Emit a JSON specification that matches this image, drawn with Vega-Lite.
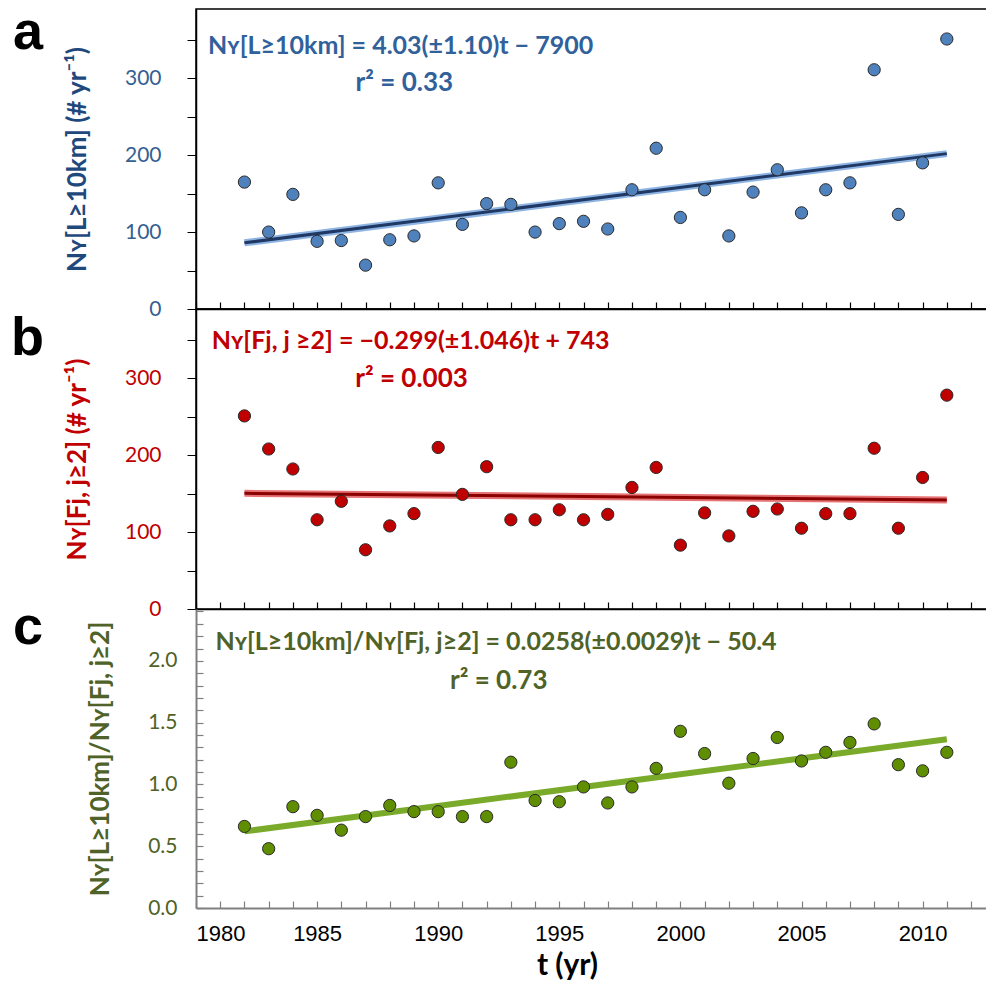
{
  "$schema": "https://vega.github.io/schema/vega-lite/v6.json",
  "padding": {"left": 10, "top": 5, "right": 0, "bottom": 0},
  "bounds": "flush",
  "spacing": 0,
  "background": "white",
  "config": {"font": "Lato", "axis": {"grid": false, "labelOverlap": false}, "view": {"stroke": null}},
  "datasets": {
    "pts": [
      {"year": 1982, "a": 165, "b": 251, "r": 0.66},
      {"year": 1983, "a": 100, "b": 208, "r": 0.48},
      {"year": 1984, "a": 149, "b": 182, "r": 0.82},
      {"year": 1985, "a": 88, "b": 116, "r": 0.75},
      {"year": 1986, "a": 89, "b": 140, "r": 0.63},
      {"year": 1987, "a": 57, "b": 77, "r": 0.74},
      {"year": 1988, "a": 90, "b": 108, "r": 0.83},
      {"year": 1989, "a": 95, "b": 124, "r": 0.78},
      {"year": 1990, "a": 164, "b": 210, "r": 0.78},
      {"year": 1991, "a": 110, "b": 149, "r": 0.74},
      {"year": 1992, "a": 137, "b": 185, "r": 0.74},
      {"year": 1993, "a": 136, "b": 116, "r": 1.18},
      {"year": 1994, "a": 100, "b": 116, "r": 0.87},
      {"year": 1995, "a": 111, "b": 129, "r": 0.86},
      {"year": 1996, "a": 114, "b": 116, "r": 0.98},
      {"year": 1997, "a": 104, "b": 123, "r": 0.85},
      {"year": 1998, "a": 155, "b": 158, "r": 0.98},
      {"year": 1999, "a": 209, "b": 184, "r": 1.13},
      {"year": 2000, "a": 119, "b": 83, "r": 1.43},
      {"year": 2001, "a": 155, "b": 125, "r": 1.25},
      {"year": 2002, "a": 95, "b": 95, "r": 1.01},
      {"year": 2003, "a": 152, "b": 127, "r": 1.21},
      {"year": 2004, "a": 181, "b": 130, "r": 1.38},
      {"year": 2005, "a": 125, "b": 105, "r": 1.19},
      {"year": 2006, "a": 155, "b": 124, "r": 1.26},
      {"year": 2007, "a": 164, "b": 124, "r": 1.34},
      {"year": 2008, "a": 311, "b": 209, "r": 1.49},
      {"year": 2009, "a": 123, "b": 105, "r": 1.16},
      {"year": 2010, "a": 190, "b": 171, "r": 1.11},
      {"year": 2011, "a": 351, "b": 278, "r": 1.26}
    ],
    "fit": [
      {"year": 1982, "a": 86, "b": 150.4, "r": 0.62},
      {"year": 2011, "a": 202, "b": 141.7, "r": 1.365}
    ]
  },
  "vconcat": [
    {
      "width": 792,
      "height": 300,
      "view": {"stroke": "black", "strokeWidth": 1.5},
      "layer": [
        {
          "data": {"name": "fit"},
          "mark": {"type": "line", "color": "#8EB4E3", "strokeWidth": 7},
          "encoding": {
            "x": {"field": "year", "type": "quantitative", "scale": {"domain": [1980, 2012.7], "nice": false, "zero": false},
              "axis": {"values": [1980,1981,1982,1983,1984,1985,1986,1987,1988,1989,1990,1991,1992,1993,1994,1995,1996,1997,1998,1999,2000,2001,2002,2003,2004,2005,2006,2007,2008,2009,2010,2011,2012], "tickCount": 100,
                "labels": false, "title": null, "domainColor": "black", "domainWidth": 1.5, "tickColor": "black", "tickWidth": 1.2, "tickSize": -7}},
            "y": {"field": "a", "type": "quantitative", "scale": {"domain": [0, 390], "nice": false},
              "axis": {"values": [0,50,100,150,200,250,300,350], "tickCount": 100, "labelExpr": "datum.value % 100 === 0 ? datum.label : ''", "labelOverlap": false,
                "domainColor": "black", "domainWidth": 1.5, "tickColor": "black", "tickSize": 9, "labelFontSize": 21, "labelColor": "#365F91", "labelPadding": 26,
                "title": "Nʏ[L≥10km] (# yr⁻¹)", "titleFontSize": 26, "titleFontWeight": "bold", "titleColor": "#1F497D", "titlePadding": 34}}
          }
        },
        {
          "data": {"name": "fit"},
          "mark": {"type": "line", "color": "#1F3864", "strokeWidth": 3},
          "encoding": {"x": {"field": "year", "type": "quantitative"}, "y": {"field": "a", "type": "quantitative"}}
        },
        {
          "data": {"name": "pts"},
          "mark": {"type": "circle", "fill": "#4F81BD", "fillOpacity": 1, "stroke": "#2A2A2A", "strokeWidth": 1, "size": 150, "opacity": 1},
          "encoding": {"x": {"field": "year", "type": "quantitative"}, "y": {"field": "a", "type": "quantitative"}}
        },
        {
          "data": {"values": [{"t": "a"}]},
          "mark": {"type": "text", "align": "left", "baseline": "alphabetic", "font": "Liberation Sans", "fontWeight": "bold", "fontSize": 54, "color": "black", "dx": -183, "dy": 40},
          "encoding": {"x": {"datum": 1980}, "y": {"datum": 390}, "text": {"field": "t"}}
        },
        {
          "data": {"values": [{"t": "Nʏ[L≥10km] = 4.03(±1.10)t − 7900"}]},
          "mark": {"type": "text", "align": "left", "baseline": "alphabetic", "fontWeight": "bold", "fontSize": 25, "color": "#30619B"},
          "encoding": {"x": {"datum": 1980.5}, "y": {"datum": 332}, "text": {"field": "t"}}
        },
        {
          "data": {"values": [{"t": "r² = 0.33"}]},
          "mark": {"type": "text", "align": "center", "baseline": "alphabetic", "fontWeight": "bold", "fontSize": 26, "color": "#30619B"},
          "encoding": {"x": {"datum": 1988.6}, "y": {"datum": 283}, "text": {"field": "t"}}
        }
      ]
    },
    {
      "width": 792,
      "height": 300,
      "view": {"stroke": "black", "strokeWidth": 1.5},
      "layer": [
        {
          "data": {"name": "fit"},
          "mark": {"type": "line", "color": "#E57373", "strokeWidth": 7},
          "encoding": {
            "x": {"field": "year", "type": "quantitative", "scale": {"domain": [1980, 2012.7], "nice": false, "zero": false},
              "axis": {"values": [1980,1981,1982,1983,1984,1985,1986,1987,1988,1989,1990,1991,1992,1993,1994,1995,1996,1997,1998,1999,2000,2001,2002,2003,2004,2005,2006,2007,2008,2009,2010,2011,2012], "tickCount": 100,
                "labels": false, "title": null, "domainColor": "black", "domainWidth": 1.5, "tickColor": "black", "tickWidth": 1.2, "tickSize": -7}},
            "y": {"field": "b", "type": "quantitative", "scale": {"domain": [0, 390], "nice": false},
              "axis": {"values": [0,50,100,150,200,250,300,350], "tickCount": 100, "labelExpr": "datum.value % 100 === 0 ? datum.label : ''", "labelOverlap": false,
                "domainColor": "black", "domainWidth": 1.5, "tickColor": "black", "tickSize": 9, "labelFontSize": 21, "labelColor": "#C00000", "labelPadding": 26,
                "title": "Nʏ[Fj, j≥2] (# yr⁻¹)", "titleFontSize": 26, "titleFontWeight": "bold", "titleColor": "#C00000", "titlePadding": 34}}
          }
        },
        {
          "data": {"name": "fit"},
          "mark": {"type": "line", "color": "#8B0000", "strokeWidth": 3},
          "encoding": {"x": {"field": "year", "type": "quantitative"}, "y": {"field": "b", "type": "quantitative"}}
        },
        {
          "data": {"name": "pts"},
          "mark": {"type": "circle", "fill": "#C00000", "fillOpacity": 1, "stroke": "#2A2A2A", "strokeWidth": 1, "size": 150, "opacity": 1},
          "encoding": {"x": {"field": "year", "type": "quantitative"}, "y": {"field": "b", "type": "quantitative"}}
        },
        {
          "data": {"values": [{"t": "b"}]},
          "mark": {"type": "text", "align": "left", "baseline": "alphabetic", "font": "Liberation Sans", "fontWeight": "bold", "fontSize": 54, "color": "black", "dx": -185, "dy": 46},
          "encoding": {"x": {"datum": 1980}, "y": {"datum": 390}, "text": {"field": "t"}}
        },
        {
          "data": {"values": [{"t": "Nʏ[Fj, j ≥2] = −0.299(±1.046)t + 743"}]},
          "mark": {"type": "text", "align": "left", "baseline": "alphabetic", "fontWeight": "bold", "fontSize": 25, "color": "#C00000"},
          "encoding": {"x": {"datum": 1980.65}, "y": {"datum": 338}, "text": {"field": "t"}}
        },
        {
          "data": {"values": [{"t": "r² = 0.003"}]},
          "mark": {"type": "text", "align": "center", "baseline": "alphabetic", "fontWeight": "bold", "fontSize": 26, "color": "#C00000"},
          "encoding": {"x": {"datum": 1988.9}, "y": {"datum": 289}, "text": {"field": "t"}}
        }
      ]
    },
    {
      "width": 792,
      "height": 299,
      "layer": [
        {
          "data": {"name": "fit"},
          "mark": {"type": "line", "color": "#7AAA2A", "strokeWidth": 6},
          "encoding": {
            "x": {"field": "year", "type": "quantitative", "scale": {"domain": [1980, 2012.7], "nice": false, "zero": false},
              "axis": {"values": [1980,1981,1982,1983,1984,1985,1986,1987,1988,1989,1990,1991,1992,1993,1994,1995,1996,1997,1998,1999,2000,2001,2002,2003,2004,2005,2006,2007,2008,2009,2010,2011,2012], "tickCount": 100,
                "format": "d", "labelExpr": "datum.value % 5 === 0 ? datum.label : ''", "labelOverlap": false,
                "labelFont": "Liberation Sans", "labelFontSize": 22, "labelColor": "black", "labelPadding": 22,
                "domainColor": "#808080", "domainWidth": 2, "tickColor": "#808080", "tickWidth": 1.2, "tickSize": -7,
                "title": "t (yr)", "titleFontSize": 30, "titleFontWeight": "bold", "titleColor": "black", "titlePadding": 6, "titleX": 371}},
            "y": {"field": "r", "type": "quantitative", "scale": {"domain": [0, 2.42], "nice": false},
              "axis": {"values": [0,0.1,0.2,0.3,0.4,0.5,0.6,0.7,0.8,0.9,1,1.1,1.2,1.3,1.4,1.5,1.6,1.7,1.8,1.9,2,2.1,2.2,2.3,2.4], "tickCount": 100,
                "labelExpr": "round(datum.value*10) % 5 === 0 ? format(datum.value, '.1f') : ''", "labelOverlap": false,
                "domainColor": "#808080", "domainWidth": 2, "tickColor": "#808080", "tickWidth": 1.2, "tickSize": -7,
                "labelFontSize": 21, "labelColor": "#4F6228", "labelPadding": 26,
                "title": "Nʏ[L≥10km]/Nʏ[Fj, j≥2]", "titleFontSize": 26, "titleFontWeight": "bold", "titleColor": "#4F6228", "titlePadding": 34}}
          }
        },
        {
          "data": {"name": "pts"},
          "mark": {"type": "circle", "fill": "#5F8F00", "fillOpacity": 1, "stroke": "#2A2A2A", "strokeWidth": 1, "size": 150, "opacity": 1},
          "encoding": {"x": {"field": "year", "type": "quantitative"}, "y": {"field": "r", "type": "quantitative"}}
        },
        {
          "data": {"values": [{"t": "c"}]},
          "mark": {"type": "text", "align": "left", "baseline": "alphabetic", "font": "Liberation Sans", "fontWeight": "bold", "fontSize": 54, "color": "black", "dx": -183, "dy": 35},
          "encoding": {"x": {"datum": 1980}, "y": {"datum": 2.42}, "text": {"field": "t"}}
        },
        {
          "data": {"values": [{"t": "Nʏ[L≥10km]/Nʏ[Fj, j≥2] = 0.0258(±0.0029)t − 50.4"}]},
          "mark": {"type": "text", "align": "left", "baseline": "alphabetic", "fontWeight": "bold", "fontSize": 25, "color": "#4F6228"},
          "encoding": {"x": {"datum": 1980.8}, "y": {"datum": 2.09}, "text": {"field": "t"}}
        },
        {
          "data": {"values": [{"t": "r² = 0.73"}]},
          "mark": {"type": "text", "align": "center", "baseline": "alphabetic", "fontWeight": "bold", "fontSize": 26, "color": "#4F6228"},
          "encoding": {"x": {"datum": 1992.5}, "y": {"datum": 1.77}, "text": {"field": "t"}}
        }
      ]
    }
  ]
}
